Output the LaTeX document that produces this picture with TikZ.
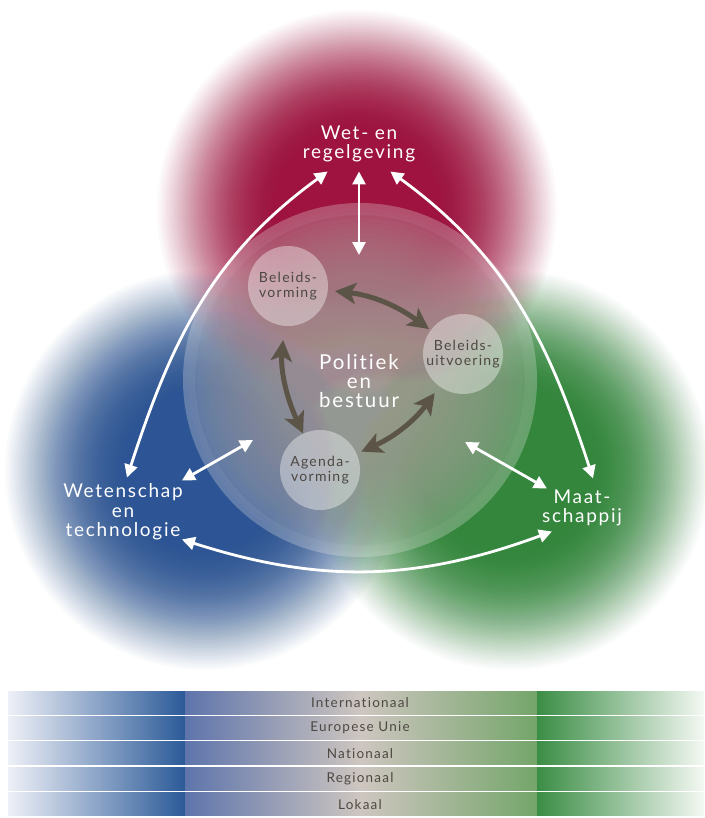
\documentclass[tikz,border=0pt]{standalone}
\usepackage{fontspec}
\setmainfont{Lato}
\newfontfamily\tracked[LetterSpace=9, Ligatures=NoCommon]{Lato}
\usetikzlibrary{arrows.meta}
\definecolor{wetred}{HTML}{9E0D3C}
\definecolor{techblue}{HTML}{285394}
\definecolor{socgreen}{HTML}{2F8639}
\definecolor{hubgray}{HTML}{8A7F78}
\definecolor{stagetext}{HTML}{4D4842}
\definecolor{loopbrown}{HTML}{5B5447}
\definecolor{barpale}{HTML}{EEF0F7}
\definecolor{barblue}{HTML}{2B5A98}
\definecolor{barmidl}{HTML}{5E74AB}
\definecolor{barmidc}{HTML}{CEC6C0}
\definecolor{barmidr}{HTML}{74A56A}
\definecolor{bargreen}{HTML}{3B8D45}
\definecolor{barpaleg}{HTML}{F4F8F3}

\begin{document}
\begin{tikzpicture}[x=1pt,y=-1pt, font=\tracked,
    sphere/.style={text=white, align=center, inner sep=3pt, font=\tracked\fontsize{19}{19.5}\selectfont},
    hublabel/.style={text=white, align=center, font=\tracked\fontsize{20.5}{19}\selectfont},
    stage/.style={circle, minimum size=80pt, inner sep=0pt, fill=white, fill opacity=0.38, text opacity=1, text=stagetext, align=center, font=\tracked\fontsize{14}{14.5}\selectfont},
    levellabel/.style={text=stagetext, font=\tracked\fontsize{13.5}{14}\selectfont},
    whitearrow/.style={draw=white, line width=2.8pt, {Triangle[length=13pt,width=13pt]}-{Triangle[length=13pt,width=13pt]}},
    darkarrow/.style={draw=loopbrown, line width=5pt, {Stealth[length=21pt,width=21pt,inset=5pt]}-{Stealth[length=21pt,width=21pt,inset=5pt]}}]
  \useasboundingbox (0,0) rectangle (704,818);
  \fill[white] (0,0) rectangle (704,818);

  \foreach \cx/\cy/\col in {205/470/techblue, 510/470/socgreen, 357/210/wetred}
    \foreach \k in {0,...,59} \fill[\col, fill opacity={0.018+0.001*\k}] (\cx,\cy) circle ({200-2*\k});

  \coordinate (hub) at (360,380);
  \foreach \k in {0,...,29} \fill[hubgray, fill opacity=0.058] (hub) circle ({177-5*\k});
  \fill[white, fill opacity=0.2] (hub) circle (177);
  \foreach \k in {0,...,5} \draw[white, opacity=0.05, line width=2pt] (hub) circle ({176-2*\k});

  \node[stage] (bv) at (288,286) {Beleids-\\vorming};
  \node[stage] (bu) at (463,354) {Beleids-\\uitvoering};
  \node[stage] (av) at (320,470) {Agenda-\\vorming};
  \node[hublabel] (politiek) at (359,381) {Politiek\\en\\bestuur};

  \node[sphere] (wet) at (359,144) {Wet- en\\regelgeving};
  \node[sphere] (wetensch) at (123,512) {Wetenschap\\en\\technologie};
  \node[sphere] (maat) at (582,508) {Maat-\\schappij};

  \coordinate (polN) at (359,255);
  \coordinate (polW) at (253,440);
  \coordinate (polE) at (465,442);

  \draw[whitearrow, shorten <=6pt] (wet.south) -- (polN);
  \draw[whitearrow] ([shift={(28,6)}]wet.south west) to[out=216, in=72] ([shift={(4,-3)}]wetensch.north);
  \draw[whitearrow] ([shift={(-28,6)}]wet.south east) to[out=-36, in=108] ([shift={(11,-8)}]maat.north);
  \draw[whitearrow] ([shift={(-4,-4)}]wetensch.south east) to[bend right=19] ([shift={(13,2)}]maat.south west);
  \draw[whitearrow] ([shift={(-4,0)}]wetensch.north east) -- (polW);
  \draw[whitearrow] ([shift={(8,2)}]maat.north west) -- (polE);

  \draw[darkarrow, shorten <=7pt, shorten >=2pt] (bv) to[bend left=15] (bu);
  \draw[darkarrow, shorten <=14pt, shorten >=0pt] (bv) to[bend right=15] (av);
  \draw[darkarrow, shorten <=5pt, shorten >=8pt] (av) to[bend right=15] (bu);

  \foreach \lab [count=\i from 0] in {Internationaal, Europese Unie, Nationaal, Regionaal, Lokaal} {
    \pgfmathsetmacro\yt{691+25.4*\i}
    \shade[left color=barpale, right color=barblue] (8,\yt) rectangle (185,{\yt+23});
    \shade[left color=barmidl, right color=barmidr, middle color=barmidc] (185,\yt) rectangle (537,{\yt+23});
    \shade[left color=bargreen, right color=barpaleg] (537,\yt) rectangle (704,{\yt+23});
    \node[levellabel] (lvl\i) at (360,{\yt+11.5}) {\lab};
  }
\end{tikzpicture}
\end{document}
